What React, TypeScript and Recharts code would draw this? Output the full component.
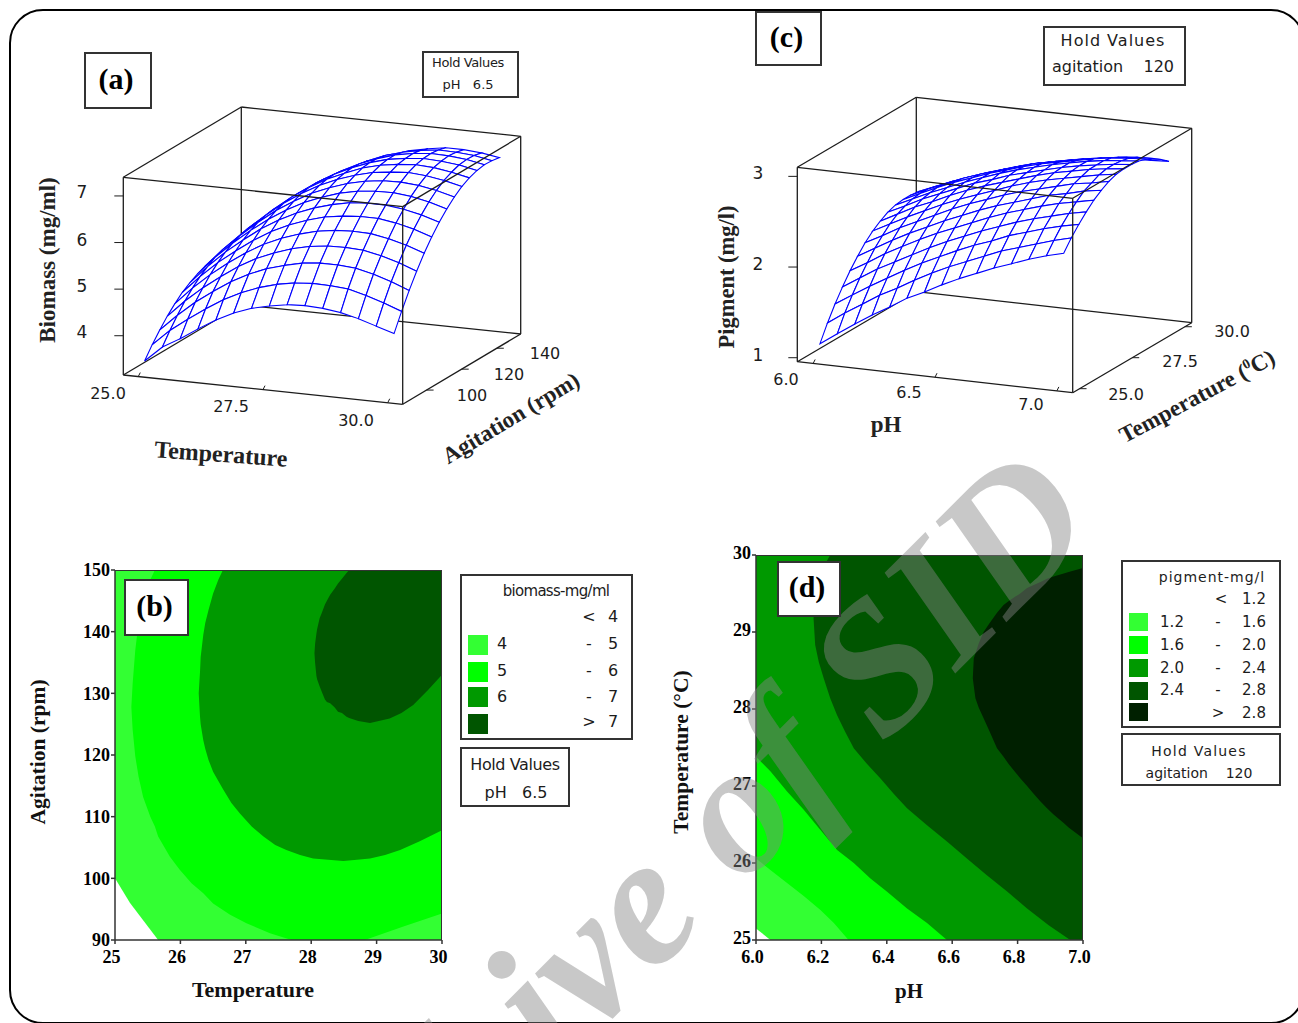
import React from "react";
import { ComposedChart, ScatterChart, Scatter, Area, XAxis, YAxis } from "recharts";

// ---- panel (a): biomass surface, rows are temperature, columns agitation
const temperatureGrid = [25, 25.357, 25.714, 26.071, 26.429, 26.786, 27.143, 27.5, 27.857, 28.214, 28.571, 28.929, 29.286, 29.643, 30];
const agitationGrid = [90, 94.29, 98.57, 102.86, 107.14, 111.43, 115.71, 120, 124.29, 128.57, 132.86, 137.14, 141.43, 145.71, 150];
const biomassGrid = [
  [3.41, 3.66, 3.88, 4.08, 4.25, 4.40, 4.51, 4.60, 4.67, 4.70, 4.71, 4.69, 4.64, 4.57, 4.47],
  [3.75, 4.01, 4.24, 4.45, 4.63, 4.78, 4.90, 5.00, 5.07, 5.11, 5.12, 5.11, 5.06, 5.00, 4.90],
  [3.97, 4.29, 4.56, 4.77, 4.96, 5.12, 5.25, 5.35, 5.42, 5.47, 5.49, 5.48, 5.44, 5.38, 5.29],
  [4.22, 4.55, 4.83, 5.05, 5.25, 5.41, 5.55, 5.66, 5.74, 5.79, 5.82, 5.81, 5.78, 5.72, 5.63],
  [4.45, 4.79, 5.08, 5.31, 5.51, 5.68, 5.83, 5.94, 6.03, 6.09, 6.12, 6.12, 6.09, 6.03, 5.95],
  [4.64, 4.98, 5.28, 5.52, 5.73, 5.91, 6.06, 6.18, 6.27, 6.34, 6.37, 6.38, 6.36, 6.30, 6.22],
  [4.78, 5.13, 5.44, 5.68, 5.90, 6.09, 6.25, 6.38, 6.48, 6.55, 6.59, 6.60, 6.58, 6.53, 6.46],
  [4.87, 5.24, 5.55, 5.81, 6.03, 6.23, 6.40, 6.53, 6.64, 6.72, 6.76, 6.78, 6.77, 6.73, 6.65],
  [4.94, 5.31, 5.64, 5.90, 6.13, 6.34, 6.51, 6.66, 6.77, 6.85, 6.91, 6.93, 6.92, 6.89, 6.82],
  [4.96, 5.34, 5.68, 5.95, 6.19, 6.40, 6.59, 6.74, 6.86, 6.95, 7.01, 7.04, 7.04, 7.00, 6.94],
  [4.94, 5.33, 5.68, 5.96, 6.21, 6.43, 6.62, 6.78, 6.91, 7.00, 7.07, 7.10, 7.11, 7.08, 7.02],
  [4.89, 5.30, 5.65, 5.94, 6.20, 6.43, 6.62, 6.79, 6.92, 7.03, 7.10, 7.14, 7.15, 7.13, 7.08],
  [4.80, 5.20, 5.56, 5.86, 6.13, 6.37, 6.57, 6.75, 6.89, 7.00, 7.08, 7.12, 7.14, 7.12, 7.08],
  [4.68, 5.08, 5.44, 5.75, 6.03, 6.28, 6.49, 6.67, 6.82, 6.94, 7.02, 7.08, 7.10, 7.09, 7.05],
  [4.56, 4.94, 5.29, 5.61, 5.90, 6.15, 6.37, 6.56, 6.72, 6.85, 6.94, 7.00, 7.03, 7.02, 6.99],
];

// ---- panel (c): pigment surface, rows are pH, columns temperature
const phGrid = [6, 6.071, 6.143, 6.214, 6.286, 6.357, 6.429, 6.5, 6.571, 6.643, 6.714, 6.786, 6.857, 6.929, 7];
const pigmentGrid = [
  [1.13, 1.31, 1.47, 1.61, 1.74, 1.85, 1.95, 2.03, 2.09, 2.14, 2.17, 2.18, 2.18, 2.17, 2.13],
  [1.26, 1.44, 1.59, 1.73, 1.85, 1.96, 2.05, 2.13, 2.19, 2.23, 2.26, 2.27, 2.27, 2.25, 2.22],
  [1.39, 1.56, 1.71, 1.85, 1.97, 2.07, 2.16, 2.23, 2.29, 2.33, 2.35, 2.36, 2.35, 2.33, 2.29],
  [1.51, 1.68, 1.82, 1.95, 2.07, 2.17, 2.25, 2.32, 2.37, 2.41, 2.43, 2.44, 2.43, 2.40, 2.36],
  [1.62, 1.78, 1.93, 2.05, 2.17, 2.26, 2.34, 2.41, 2.46, 2.49, 2.51, 2.51, 2.50, 2.47, 2.43],
  [1.74, 1.89, 2.03, 2.15, 2.26, 2.35, 2.43, 2.49, 2.54, 2.57, 2.58, 2.58, 2.56, 2.53, 2.48],
  [1.83, 1.99, 2.12, 2.24, 2.34, 2.43, 2.51, 2.56, 2.61, 2.63, 2.65, 2.64, 2.62, 2.59, 2.54],
  [1.93, 2.08, 2.21, 2.32, 2.42, 2.51, 2.58, 2.63, 2.67, 2.70, 2.71, 2.70, 2.68, 2.64, 2.59],
  [2.02, 2.16, 2.29, 2.40, 2.50, 2.58, 2.65, 2.70, 2.73, 2.75, 2.76, 2.75, 2.72, 2.68, 2.63],
  [2.10, 2.24, 2.36, 2.47, 2.57, 2.64, 2.71, 2.76, 2.79, 2.80, 2.81, 2.79, 2.76, 2.72, 2.66],
  [2.18, 2.32, 2.44, 2.54, 2.63, 2.70, 2.76, 2.81, 2.84, 2.85, 2.85, 2.83, 2.80, 2.75, 2.69],
  [2.25, 2.38, 2.50, 2.60, 2.69, 2.76, 2.81, 2.85, 2.88, 2.89, 2.89, 2.87, 2.83, 2.78, 2.72],
  [2.32, 2.44, 2.56, 2.65, 2.74, 2.80, 2.86, 2.89, 2.92, 2.92, 2.92, 2.90, 2.86, 2.81, 2.74],
  [2.38, 2.50, 2.61, 2.70, 2.78, 2.85, 2.89, 2.93, 2.95, 2.95, 2.94, 2.92, 2.88, 2.82, 2.75],
  [2.43, 2.55, 2.65, 2.74, 2.82, 2.88, 2.93, 2.96, 2.97, 2.97, 2.96, 2.93, 2.89, 2.83, 2.76],
];

// ---- panel (b): contour bands as [temperature, low agitation, high agitation]
const biomass4 = [[25, 100, 150], [25.23, 96, 150], [25.66, 90, 150], [30, 90, 150]];
const biomass5 = [[25.25, 127.8, 127.8], [25.27, 124.1, 131.6], [25.31, 119.8, 137], [25.36, 116.5, 141.4], [25.43, 113.2, 145.1], [25.54, 110, 148.4], [25.61, 108.4, 150], [25.66, 106.8, 150], [25.84, 103.5, 150], [25.99, 101.4, 150], [26.17, 99.2, 150], [26.35, 97.6, 150], [26.5, 95.9, 150], [26.76, 94.1, 150], [27.01, 92.7, 150], [27.37, 91.1, 150], [27.7, 90, 150], [28.82, 90, 150], [29.41, 92.2, 150], [30, 94.3, 150]];
const biomass6 = [[26.28, 130, 130], [26.3, 126.2, 133.5], [26.31, 125, 135.9], [26.35, 122.4, 139.5], [26.38, 121, 141.4], [26.43, 119.2, 143.5], [26.5, 117.3, 146.2], [26.58, 115.8, 148.4], [26.65, 114.5, 150], [26.78, 112.2, 150], [26.91, 110.5, 150], [27.09, 108.4, 150], [27.27, 106.8, 150], [27.45, 105.4, 150], [27.62, 104.6, 150], [27.83, 103.8, 150], [28.03, 103.2, 150], [28.26, 103, 150], [28.49, 102.8, 150], [28.7, 103, 150], [28.9, 103.2, 150], [29.13, 103.8, 150], [29.36, 104.6, 150], [29.66, 106, 150], [30, 107.8, 150]];
const biomass7 = [[28.05, 136.5, 136.5], [28.06, 134.9, 138.1], [28.08, 132.8, 139.7], [28.09, 132.3, 140.4], [28.13, 131.1, 142.2], [28.16, 130.3, 143], [28.21, 129, 144.4], [28.24, 128.6, 145], [28.29, 128.4, 146], [28.36, 127.7, 147], [28.41, 127, 147.8], [28.47, 126.8, 148.6], [28.54, 126.2, 149.5], [28.58, 126, 150], [28.72, 125.5, 150], [28.9, 125.2, 150], [29.2, 125.9, 150], [29.38, 126.8, 150], [29.56, 128.1, 150], [29.79, 130.6, 150], [30, 133, 150]];

// ---- panel (d): contour bands as [pH, low temperature, high temperature]
const pigment12 = [[6, 25.15, 30], [6.044, 25, 30], [7, 25, 30]];
const pigment16 = [[6, 26.06, 30], [6.044, 25.91, 30], [6.095, 25.74, 30], [6.146, 25.57, 30], [6.197, 25.39, 30], [6.238, 25.22, 30], [6.283, 25, 30], [7, 25, 30]];
const pigment20 = [[6, 27.38, 30], [6.044, 27.19, 30], [6.095, 26.93, 30], [6.146, 26.69, 30], [6.197, 26.43, 30], [6.248, 26.17, 30], [6.299, 26, 30], [6.35, 25.8, 30], [6.4, 25.63, 30], [6.462, 25.41, 30], [6.523, 25.22, 30], [6.584, 25, 30], [7, 25, 30]];
const pigment24 = [[6.176, 29.18, 29.18], [6.181, 28.83, 29.4], [6.192, 28.61, 29.65], [6.207, 28.4, 29.85], [6.227, 28.14, 30], [6.248, 27.92, 30], [6.273, 27.7, 30], [6.299, 27.49, 30], [6.339, 27.29, 30], [6.38, 27.1, 30], [6.421, 26.9, 30], [6.462, 26.71, 30], [6.523, 26.49, 30], [6.584, 26.28, 30], [6.645, 26.06, 30], [6.706, 25.84, 30], [6.768, 25.63, 30], [6.829, 25.41, 30], [6.895, 25.19, 30], [6.961, 25, 30], [7, 25, 30]];
const pigment28 = [[6.663, 28.4, 28.4], [6.666, 28.3, 28.66], [6.671, 28.14, 28.72], [6.681, 28.02, 28.85], [6.696, 27.88, 29], [6.712, 27.73, 29.1], [6.737, 27.49, 29.25], [6.757, 27.38, 29.35], [6.772, 27.29, 29.4], [6.793, 27.18, 29.46], [6.808, 27.1, 29.5], [6.829, 27, 29.57], [6.849, 26.9, 29.61], [6.87, 26.8, 29.65], [6.89, 26.71, 29.69], [6.91, 26.63, 29.72], [6.941, 26.52, 29.76], [6.956, 26.46, 29.78], [7, 26.32, 29.83]];

const biomassLegend = [["4", "-", "5"], ["5", "-", "6"], ["6", "-", "7"], ["", ">", "7"]];
const pigmentLegend = [["1.2", "-", "1.6"], ["1.6", "-", "2.0"], ["2.0", "-", "2.4"], ["2.4", "-", "2.8"], ["", ">", "2.8"]];

const LIGHT = "#33ff33";
const BRIGHT = "#00ff00";
const MID = "#009900";
const DARK = "#005500";
const DARKEST = "#002000";

const SANS = '"DejaVu Sans", sans-serif';
const SERIF = '"Liberation Serif", serif';
const INK = "#1c1c1c";

const boxA = { x0: 123.3, y0: 375, xu: 279.4, xv: 118, yu: 29.3, yv: -70.3, yw: -197.7, aMin: 24.7, aMax: 30.3, bMin: 86.4, bMax: 153.6, zMin: 3.157, zMax: 7.4 };
const boxC = { x0: 797.3, y0: 361.7, xu: 275.4, xv: 119, yu: 31, yv: -70, yw: -194.4, aMin: 5.935, aMax: 7.065, bMin: 24.675, bMax: 30.325, zMin: 0.956, zMax: 3.1 };

type Box = typeof boxA;

const project = (box: Box, u: number, v: number, w: number) => ({
  x: box.x0 + box.xu * u + box.xv * v,
  y: box.y0 + box.yu * u + box.yv * v + box.yw * w,
});

const surfacePoint = (box: Box, a: number, b: number, z: number) =>
  project(box, (a - box.aMin) / (box.aMax - box.aMin), (b - box.bMin) / (box.bMax - box.bMin), (z - box.zMin) / (box.zMax - box.zMin));

const edge = (box: Box, from: number[], to: number[]) => [project(box, from[0], from[1], from[2]), project(box, to[0], to[1], to[2])];

// white face with a blue outline, so nearer cells hide what is behind them
const QuadFace = (props: any) => (
  <path d={`M${props.points.map((p: any) => `${p.x},${p.y}`).join("L")}Z`} fill="#fff" stroke="#0000ff" strokeWidth={1.1} />
);

const NoDot = () => <g />;

function SurfaceChart({ box, aGrid, bGrid, zGrid, zTicks, aTicks, bTicks }: any) {
  const faces: any[] = [];
  // far corner first: high b and low a are furthest from the viewer
  for (let j = bGrid.length - 2; j >= 0; j--) {
    for (let i = 0; i < aGrid.length - 1; i++) {
      faces.push([
        surfacePoint(box, aGrid[i], bGrid[j], zGrid[i][j]),
        surfacePoint(box, aGrid[i + 1], bGrid[j], zGrid[i + 1][j]),
        surfacePoint(box, aGrid[i + 1], bGrid[j + 1], zGrid[i + 1][j + 1]),
        surfacePoint(box, aGrid[i], bGrid[j + 1], zGrid[i][j + 1]),
      ]);
    }
  }
  const back = [
    edge(box, [0, 0, 1], [0, 1, 1]),
    edge(box, [0, 1, 1], [1, 1, 1]),
    edge(box, [0, 1, 0], [0, 1, 1]),
    edge(box, [0, 0, 0], [0, 1, 0]),
    edge(box, [0, 1, 0], [1, 1, 0]),
    edge(box, [1, 1, 0], [1, 1, 1]),
  ];
  const front = [
    edge(box, [0, 0, 0], [0, 0, 1]),
    edge(box, [0, 0, 1], [1, 0, 1]),
    edge(box, [1, 0, 1], [1, 1, 1]),
    edge(box, [1, 0, 0], [1, 0, 1]),
    edge(box, [0, 0, 0], [1, 0, 0]),
    edge(box, [1, 0, 0], [1, 1, 0]),
  ];
  const ticks: { x: number; y: number }[][] = [];
  zTicks.forEach((z: number) => {
    const p = project(box, 0, 0, (z - box.zMin) / (box.zMax - box.zMin));
    ticks.push([p, { x: p.x - 9, y: p.y }]);
  });
  aTicks.forEach((a: number) => {
    const p = project(box, (a - box.aMin) / (box.aMax - box.aMin), 0, 0);
    ticks.push([p, { x: p.x + 2, y: p.y - 4 }]);
  });
  bTicks.forEach((b: number) => {
    const p = project(box, 1, (b - box.bMin) / (box.bMax - box.bMin), 0);
    ticks.push([p, { x: p.x + 7, y: p.y }]);
  });

  return (
    <ScatterChart width={1298} height={540} margin={{ top: 0, right: 0, bottom: 0, left: 0 }} style={{ position: "absolute", left: 0, top: 0 }}>
      <XAxis type="number" dataKey="x" domain={[0, 1298]} hide />
      <YAxis type="number" dataKey="y" domain={[0, 540]} reversed hide />
      {back.map((d, i) => <Scatter key={`b${i}`} data={d} shape={NoDot} line={{ stroke: INK, strokeWidth: 1.3 }} isAnimationActive={false} />)}
      {faces.map((d, i) => <Scatter key={`f${i}`} data={d} shape={NoDot} line={QuadFace} isAnimationActive={false} />)}
      {front.map((d, i) => <Scatter key={`e${i}`} data={d} shape={NoDot} line={{ stroke: INK, strokeWidth: 1.3 }} isAnimationActive={false} />)}
      {ticks.map((d, i) => <Scatter key={`t${i}`} data={d} shape={NoDot} line={{ stroke: INK, strokeWidth: 1 }} isAnimationActive={false} />)}
    </ScatterChart>
  );
}

const toBand = (rows: number[][]) => rows.map((r) => ({ x: r[0], range: [r[1], r[2]] }));

const tickStyle = { fontFamily: SERIF, fontWeight: 700, fontSize: 18, fill: "#000" };

function ContourChart({ left, top, plotW, plotH, xDomain, yDomain, xTicks, yTicks, bands, xFormat, yDy = 0 }: any) {
  const leftGap = 60;
  const topGap = 20;
  const botGap = 40;
  return (
    <div style={{ position: "absolute", left: left - leftGap, top: top - topGap }}>
      <ComposedChart width={plotW + leftGap + 30} height={plotH + topGap + botGap} margin={{ top: topGap, right: 30, bottom: 0, left: 0 }}>
        <XAxis type="number" dataKey="x" domain={xDomain} ticks={xTicks} height={botGap} stroke="#333" strokeWidth={1.5} tick={tickStyle} tickSize={4} tickMargin={6} dx={-3.5} tickFormatter={xFormat} interval={0} />
        <YAxis type="number" domain={yDomain} ticks={yTicks} width={leftGap} stroke="#333" strokeWidth={1.5} tick={tickStyle} tickSize={4} tickMargin={1} dy={yDy} interval={0} />
        {bands.map((b: any, i: number) => (
          <Area key={i} data={toBand(b.rows)} dataKey="range" type="linear" fill={b.color} fillOpacity={1} stroke="none" dot={false} activeDot={false} isAnimationActive={false} />
        ))}
      </ComposedChart>
      <div style={{ position: "absolute", left: leftGap, top: topGap, width: plotW, height: plotH, boxSizing: "border-box", borderTop: "1px solid #333", borderRight: "1px solid #333" }} />
    </div>
  );
}

function Txt({ x, y, size = 16, font = SANS, bold, rot = 0, color = INK, spacing, children }: any) {
  return (
    <div style={{ position: "absolute", left: x, top: y, transform: `translate(-50%,-50%) rotate(${rot}deg)`, fontFamily: font, fontSize: size, fontWeight: bold ? 700 : 400, whiteSpace: "pre", letterSpacing: spacing, color, lineHeight: 1 }}>
      {children}
    </div>
  );
}

function Frame({ x, y, w, h }: any) {
  return <div style={{ position: "absolute", left: x, top: y, width: w, height: h, boxSizing: "border-box", border: "2px solid #333", background: "#fff" }} />;
}

function TagBox({ x, y, w, h, label, size = 30 }: any) {
  return (
    <>
      <Frame x={x} y={y} w={w} h={h} />
      <Txt x={x + w / 2 - 2} y={y + h / 2 - 2} size={size} font={SERIF} bold color="#000">{label}</Txt>
    </>
  );
}

const Swatch = ({ x, y, w, h, color }: any) => <div style={{ position: "absolute", left: x, top: y, width: w, height: h, background: color }} />;

export default function App() {
  return (
    <div style={{ position: "absolute", left: 0, top: 0, width: 1298, height: 1023, overflow: "hidden", background: "#fff" }}>
      <div style={{ position: "absolute", left: 9, top: 9, width: 1296, height: 1015, boxSizing: "border-box", border: "2.5px solid #000", borderRadius: 34 }} />

      {/* panel a */}
      <SurfaceChart box={boxA} aGrid={temperatureGrid} bGrid={agitationGrid} zGrid={biomassGrid} zTicks={[4, 5, 6, 7]} aTicks={[25, 27.5, 30]} bTicks={[100, 120, 140]} />
      <TagBox x={84} y={52} w={68} h={57} label="(a)" />
      <Frame x={422} y={51} w={97} h={47} />
      <Txt x={468} y={62} size={13} spacing={-0.4}>Hold Values</Txt>
      <Txt x={468} y={84} size={13}>{"pH   6.5"}</Txt>
      {["4", "5", "6", "7"].map((t, i) => <Txt key={t} x={82} y={[332, 286, 240, 192][i]} size={17}>{t}</Txt>)}
      <Txt x={108} y={394}>25.0</Txt>
      <Txt x={231} y={407}>27.5</Txt>
      <Txt x={356} y={421}>30.0</Txt>
      <Txt x={472} y={396}>100</Txt>
      <Txt x={509} y={375}>120</Txt>
      <Txt x={545} y={354}>140</Txt>
      <Txt x={47} y={260} rot={-90} size={23} font={SERIF} bold color="#222">Biomass (mg/ml)</Txt>
      <Txt x={221} y={454} rot={4} size={24} font={SERIF} bold color="#222">Temperature</Txt>
      <Txt x={511} y={418} rot={-31} size={23} font={SERIF} bold color="#222">Agitation (rpm)</Txt>

      {/* panel c */}
      <SurfaceChart box={boxC} aGrid={phGrid} bGrid={temperatureGrid} zGrid={pigmentGrid} zTicks={[1, 2, 3]} aTicks={[6, 6.5, 7]} bTicks={[25, 27.5, 30]} />
      <TagBox x={755} y={11} w={67} h={55} label="(c)" />
      <Frame x={1043} y={26} w={143} h={60} />
      <Txt x={1113} y={41} size={16} spacing={1}>Hold Values</Txt>
      <Txt x={1113} y={67} size={16}>{"agitation    120"}</Txt>
      {["1", "2", "3"].map((t, i) => <Txt key={t} x={758} y={[355, 264, 173][i]} size={17}>{t}</Txt>)}
      <Txt x={786} y={380}>6.0</Txt>
      <Txt x={909} y={393}>6.5</Txt>
      <Txt x={1031} y={405}>7.0</Txt>
      <Txt x={1126} y={395}>25.0</Txt>
      <Txt x={1180} y={362}>27.5</Txt>
      <Txt x={1232} y={332}>30.0</Txt>
      <Txt x={727} y={277} rot={-90} size={22.5} font={SERIF} bold color="#222">Pigment (mg/l)</Txt>
      <Txt x={886} y={424} size={23} font={SERIF} bold color="#222">pH</Txt>
      <Txt x={1197} y={396} rot={-28} size={23} font={SERIF} bold color="#222">
        Temperature (<sup style={{ fontSize: 14 }}>0</sup>C)
      </Txt>

      {/* panel b */}
      <ContourChart
        left={115} top={570} plotW={327} plotH={370}
        xDomain={[25, 30]} yDomain={[90, 150]}
        xTicks={[25, 26, 27, 28, 29, 30]} yTicks={[90, 100, 110, 120, 130, 140, 150]}
        bands={[{ rows: biomass4, color: LIGHT }, { rows: biomass5, color: BRIGHT }, { rows: biomass6, color: MID }, { rows: biomass7, color: DARK }]}
      />
      <Txt x={253} y={990} size={22} font={SERIF} bold color="#111">Temperature</Txt>
      <Txt x={39} y={752} rot={-90} size={21.5} font={SERIF} bold color="#111">Agitation (rpm)</Txt>

      {/* panel d */}
      <ContourChart
        left={755.7} top={555} plotW={327} plotH={385}
        xDomain={[6, 7]} yDomain={[25, 30]}
        xTicks={[6, 6.2, 6.4, 6.6, 6.8, 7]} yTicks={[25, 26, 27, 28, 29, 30]}
        xFormat={(v: number) => v.toFixed(1)} yDy={-2}
        bands={[{ rows: pigment12, color: LIGHT }, { rows: pigment16, color: BRIGHT }, { rows: pigment20, color: MID }, { rows: pigment24, color: DARK }, { rows: pigment28, color: DARKEST }]}
      />
      <Txt x={909} y={991} size={21} font={SERIF} bold color="#111">pH</Txt>
      <Txt x={682} y={752} rot={-90} size={21.5} font={SERIF} bold color="#111">Temperature (°C)</Txt>

      {/* watermark */}
      <div style={{ position: "absolute", left: 1123, top: 548, transformOrigin: "100% 100%", transform: "translate(-100%,-100%) rotate(-45deg)", fontFamily: SERIF, fontWeight: 700, fontStyle: "italic", fontSize: 185, lineHeight: 1, color: "rgba(133,133,133,0.45)", whiteSpace: "pre", pointerEvents: "none" }}>
        Archive of SID
      </div>

      <TagBox x={124} y={579} w={65} h={57} label="(b)" />
      <TagBox x={777} y={561} w={64} h={56} label="(d)" />

      {/* legend b */}
      <Frame x={460} y={574} w={173} h={166} />
      <Txt x={556} y={591} size={15} spacing={-0.7}>biomass-mg/ml</Txt>
      <Txt x={589} y={617} size={16}>{"<"}</Txt>
      <Txt x={613} y={617} size={16}>4</Txt>
      {biomassLegend.map((r, i) => (
        <React.Fragment key={i}>
          <Swatch x={468} y={[635, 662, 687, 714][i]} w={20} h={20} color={[LIGHT, BRIGHT, MID, DARK][i]} />
          <Txt x={502} y={[644, 671, 697, 722][i]} size={16}>{r[0]}</Txt>
          <Txt x={589} y={[644, 671, 697, 722][i]} size={16}>{r[1]}</Txt>
          <Txt x={613} y={[644, 671, 697, 722][i]} size={16}>{r[2]}</Txt>
        </React.Fragment>
      ))}
      <Frame x={460} y={747} w={110} h={60} />
      <Txt x={515} y={765} size={16} spacing={-0.4}>Hold Values</Txt>
      <Txt x={516} y={793} size={16}>{"pH   6.5"}</Txt>

      {/* legend d */}
      <Frame x={1121} y={560} w={160} h={168} />
      <Txt x={1212} y={577} size={14} spacing={1}>pigment-mg/l</Txt>
      <Txt x={1221} y={599} size={15}>{"<"}</Txt>
      <Txt x={1254} y={599} size={15}>1.2</Txt>
      {pigmentLegend.map((r, i) => (
        <React.Fragment key={i}>
          <Swatch x={1129} y={[613, 636, 659, 682, 703][i]} w={19} h={18} color={[LIGHT, BRIGHT, MID, DARK, DARKEST][i]} />
          <Txt x={1172} y={[622, 645, 668, 690, 713][i]} size={15}>{r[0]}</Txt>
          <Txt x={1218} y={[622, 645, 668, 690, 713][i]} size={15}>{r[1]}</Txt>
          <Txt x={1254} y={[622, 645, 668, 690, 713][i]} size={15}>{r[2]}</Txt>
        </React.Fragment>
      ))}
      <Frame x={1121} y={733} w={160} h={53} />
      <Txt x={1199} y={751} size={14} spacing={1.2}>Hold Values</Txt>
      <Txt x={1199} y={773} size={14}>{"agitation    120"}</Txt>
    </div>
  );
}
